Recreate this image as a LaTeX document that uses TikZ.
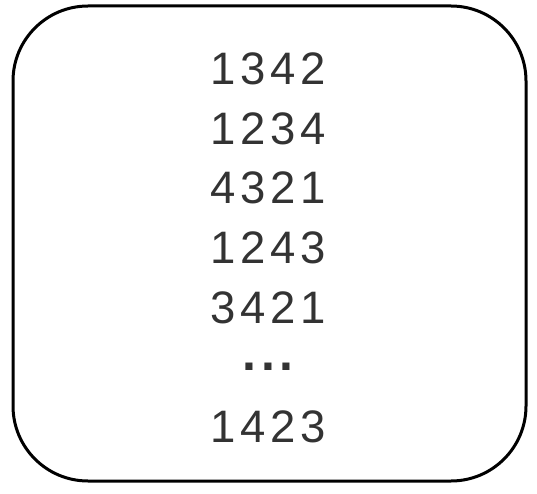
\documentclass[tikz,border=0pt]{standalone}
\usepackage{fontspec}
\setmainfont{Liberation Sans}
\definecolor{digitgray}{HTML}{333333}
\tikzset{perm/.style={anchor=base, inner sep=0pt, text=digitgray,
  font=\fontsize{45.5}{50}\selectfont\addfontfeature{LetterSpace=10}}}
\begin{document}
\begin{tikzpicture}[x=1pt,y=-1pt]
\useasboundingbox (0,0) rectangle (537,494);
\draw[line width=3pt, rounded corners=75pt] (13,6) rectangle (526,481);
\foreach \p [count=\i] in {1342,1234,4321,1243,3421}
  \node[perm] (row\i) at (268,{85+59.5*(\i-1)}) {\p};
\node[perm, font=\fontsize{50}{50}\selectfont\bfseries\addfontfeature{LetterSpace=10}] (dots) at (268,370) {...};
\node[perm] (last) at (268,442) {1423};
\end{tikzpicture}
\end{document}
